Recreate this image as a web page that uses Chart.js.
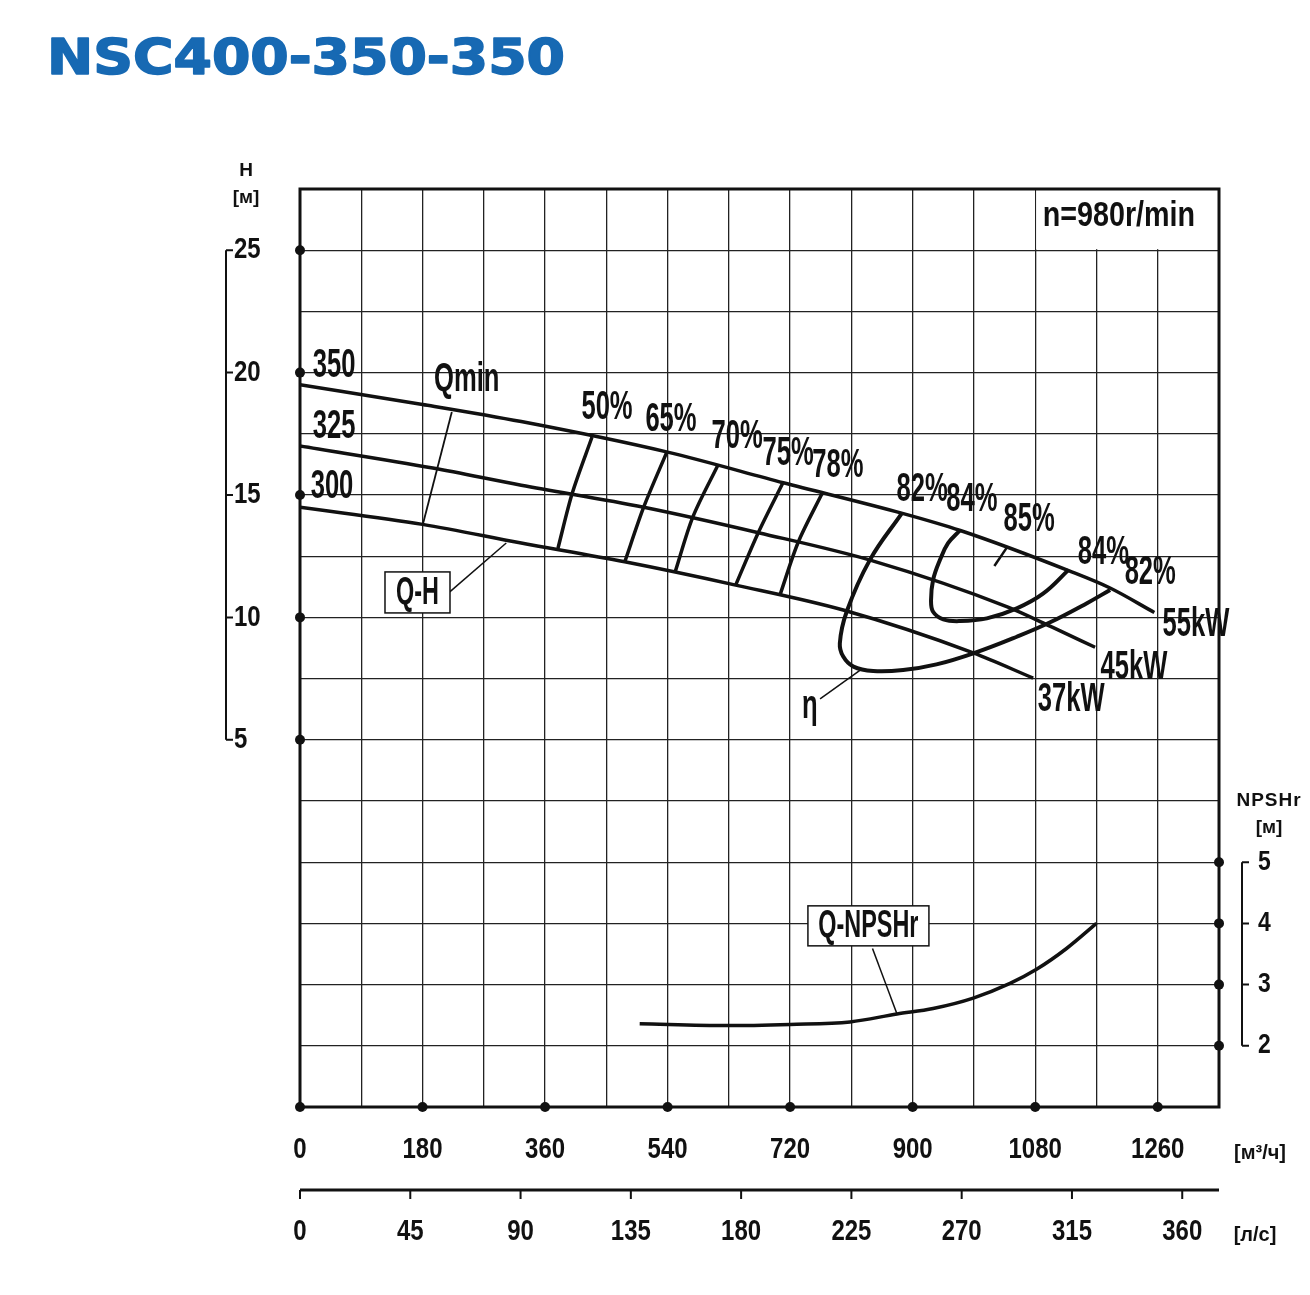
<!DOCTYPE html>
<html>
<head>
<meta charset="utf-8">
<script src="https://cdn.jsdelivr.net/npm/chart.js@4.4.1/dist/chart.umd.min.js"></script>
<style>
  html, body { margin: 0; padding: 0; background: #fff; }
  #wrap { width: 1310px; height: 1295px; position: relative; }
</style>
</head>
<body>
<div id="wrap"><canvas id="pumpChart"></canvas></div>
<script>
// ---- data (Q in m3/h, H in m, NPSHr in m) ----
const qTicksM3h = [0, 180, 360, 540, 720, 900, 1080, 1260];
const qTicksLs = [0, 45, 90, 135, 180, 225, 270, 315, 360];
const hTicks = [5, 10, 15, 20, 25];
const npshTicks = [2, 3, 4, 5];

// Q-H curves for impeller 350 / 325 / 300
const q350 = [0, 180, 325, 540, 710, 885, 970, 1130, 1190, 1255];
const h350 = [19.5, 18.7, 18.0, 16.75, 15.5, 14.25, 13.55, 11.9, 11.2, 10.2];
const q325 = [0, 195, 325, 505, 675, 840, 1040, 1105, 1168];
const h325 = [17.0, 16.1, 15.4, 14.5, 13.45, 12.32, 10.42, 9.6, 8.78];
const q300 = [0, 180, 323, 477, 640, 798, 989, 1077];
const h300 = [14.5, 13.8, 13.05, 12.27, 11.32, 10.3, 8.55, 7.52];

// efficiency iso-lines (from 350 curve down to 300 curve)
const q50 = [429, 400, 379];  const h50 = [17.37, 15.08, 12.83];
const q65 = [539, 505, 477];  const h65 = [16.76, 14.51, 12.26];
const q70 = [614, 577, 551];  const h70 = [16.23, 14.1, 11.85];
const q75 = [710, 673, 640];  const h75 = [15.53, 13.45, 11.32];
const q78 = [768, 732, 705];  const h78 = [15.12, 13.08, 10.91];
const q82 = [884, 837, 803, 793, 798, 813, 842, 886, 935, 992, 1053, 1102, 1156, 1190];
const h82 = [14.25, 12.34, 10.23, 8.94, 8.4, 7.99, 7.81, 7.85, 8.08, 8.56, 9.21, 9.8, 10.58, 11.12];
const q84 = [970, 952, 940, 930, 927, 930, 945, 970, 1009, 1053, 1092, 1129];
const h84 = [13.57, 13.03, 12.34, 11.53, 10.71, 10.23, 9.92, 9.85, 9.96, 10.37, 10.98, 11.94];
const q85 = [1039, 1020];     const h85 = [12.88, 12.1];

// Qmin line
const qQmin = [223, 181];     const hQmin = [18.39, 13.86];

// NPSHr curve
const qNpsh = [499, 627, 720, 808, 877, 930, 989, 1043, 1082, 1126, 1170];
const npsh = [2.36, 2.33, 2.35, 2.39, 2.52, 2.61, 2.78, 3.02, 3.25, 3.59, 4.0];

// leader lines
const qLeadQH = [220, 303];   const hLeadQH = [11.04, 13.04];
const qLeadEta = [764, 823];  const hLeadEta = [6.67, 7.85];
const qLeadNpsh = [841, 877]; const nLeadNpsh = [3.59, 2.52];

const pts = (xs, ys) => xs.map((x, i) => ({ x: x, y: ys[i] }));

const SANS = "'Liberation Sans', Arial, sans-serif";
const INK = '#111';

function txt(ctx, s, x, y, size, o) {
  o = o || {};
  ctx.save();
  ctx.font = (o.bold ? 'bold ' : '') + size + 'px ' + (o.family || SANS);
  ctx.textAlign = o.align || 'center';
  ctx.textBaseline = 'middle';
  ctx.fillStyle = o.color || INK;
  ctx.translate(x, y);
  ctx.scale(o.sx || 1, o.sy || 1);
  if (o.spacing) ctx.letterSpacing = o.spacing;
  ctx.fillText(s, 0, 0);
  ctx.restore();
}

// labels inside the plot, placed in data units
const curveLabels = [
  { t: '350', q: 50, h: 20.27 }, { t: '325', q: 50, h: 17.78 }, { t: '300', q: 47, h: 15.33 },
  { t: 'Qmin', q: 245, h: 19.7 },
  { t: '50%', q: 451, h: 18.55 }, { t: '65%', q: 545, h: 18.06 }, { t: '70%', q: 642, h: 17.37 },
  { t: '75%', q: 717, h: 16.67 }, { t: '78%', q: 790, h: 16.18 }, { t: '82%', q: 914, h: 15.2 },
  { t: '84%', q: 987, h: 14.8 }, { t: '85%', q: 1071, h: 13.98 }, { t: '84%', q: 1180, h: 12.63 },
  { t: '82%', q: 1249, h: 11.81 },
  { t: '55kW', q: 1316, h: 9.69 }, { t: '45kW', q: 1225, h: 7.93 }, { t: '37kW', q: 1133, h: 6.63 },
  { t: 'η', q: 749, h: 6.34 }
];

const decor = {
  id: 'decor',
  beforeDatasetsDraw(chart) {
    const { ctx, chartArea: a, scales: { x, y } } = chart;
    // blank cell behind the speed note
    ctx.save();
    ctx.fillStyle = '#fff';
    ctx.fillRect(x.getPixelForValue(1080) + 1, a.top, a.right - x.getPixelForValue(1080) - 1, y.getPixelForValue(25) - a.top - 1);
    ctx.restore();
  },
  afterDatasetsDraw(chart) {
    const { ctx, chartArea: a, scales: { x, y, yN, xLs } } = chart;
    ctx.save();
    ctx.strokeStyle = INK;
    ctx.lineWidth = 3;
    ctx.strokeRect(a.left, a.top, a.right - a.left, a.bottom - a.top);

    ctx.fillStyle = INK;
    const dot = (px, py) => { ctx.beginPath(); ctx.arc(px, py, 5, 0, Math.PI * 2); ctx.fill(); };
    hTicks.forEach(v => dot(a.left, y.getPixelForValue(v)));
    qTicksM3h.forEach(v => dot(x.getPixelForValue(v), a.bottom));
    npshTicks.forEach(v => dot(a.right, yN.getPixelForValue(v)));

    // left H scale bracket
    const bx = a.left - 74;
    ctx.lineWidth = 2;
    ctx.beginPath();
    ctx.moveTo(bx, y.getPixelForValue(25));
    ctx.lineTo(bx, y.getPixelForValue(5));
    hTicks.forEach(v => { const py = y.getPixelForValue(v); ctx.moveTo(bx, py); ctx.lineTo(bx + 7, py); });
    ctx.stroke();
    hTicks.forEach(v => txt(ctx, String(v), bx + 8, y.getPixelForValue(v), 30, { align: 'left', bold: true, sx: 0.8 }));
    txt(ctx, 'H', bx + 20, a.top - 18, 19, { bold: true });
    txt(ctx, '[м]', bx + 20, a.top + 9, 19, { bold: true });

    // right NPSHr scale bracket
    const rx = a.right + 23;
    ctx.beginPath();
    ctx.moveTo(rx, yN.getPixelForValue(5));
    ctx.lineTo(rx, yN.getPixelForValue(2));
    npshTicks.forEach(v => { const py = yN.getPixelForValue(v); ctx.moveTo(rx, py); ctx.lineTo(rx + 7, py); });
    ctx.stroke();
    npshTicks.forEach(v => txt(ctx, String(v), rx + 16, yN.getPixelForValue(v), 27, { align: 'left', bold: true, sx: 0.85 }));
    txt(ctx, 'NPSHr', a.right + 50, yN.getPixelForValue(5) - 61, 19, { bold: true, spacing: '1px' });
    txt(ctx, '[м]', a.right + 50, yN.getPixelForValue(5) - 34, 19, { bold: true });

    // m3/h tick labels
    qTicksM3h.forEach(v => txt(ctx, String(v), x.getPixelForValue(v), a.bottom + 43, 30, { bold: true, sx: 0.8 }));
    txt(ctx, '[м³/ч]', a.right + 41, a.bottom + 46, 20, { bold: true });

    // l/s axis
    const ly = a.bottom + 83;
    ctx.lineWidth = 3;
    ctx.beginPath();
    ctx.moveTo(a.left, ly); ctx.lineTo(a.right, ly);
    ctx.stroke();
    ctx.lineWidth = 2;
    ctx.beginPath();
    qTicksLs.forEach(v => { const px = xLs.getPixelForValue(v); ctx.moveTo(px, ly); ctx.lineTo(px, ly + 9); });
    ctx.stroke();
    qTicksLs.forEach(v => txt(ctx, String(v), xLs.getPixelForValue(v), ly + 42, 30, { bold: true, sx: 0.8 }));
    txt(ctx, '[л/с]', a.right + 36, ly + 45, 20, { bold: true });
    ctx.restore();
  },
  afterDraw(chart) {
    const { ctx, scales: { x, y, yN } } = chart;
    curveLabels.forEach(l => txt(ctx, l.t, x.getPixelForValue(l.q), y.getPixelForValue(l.h), 32, { bold: true, sx: 0.8, sy: 1.28 }));
    txt(ctx, 'n=980r/min', x.getPixelForValue(1203), y.getPixelForValue(26.36), 33, { bold: true, sx: 0.87, sy: 1.05 });

    const box = (s, cx, cy, w, h) => {
      ctx.save();
      ctx.fillStyle = '#fff';
      ctx.strokeStyle = INK;
      ctx.lineWidth = 1.5;
      ctx.fillRect(cx - w / 2, cy - h / 2, w, h);
      ctx.strokeRect(cx - w / 2, cy - h / 2, w, h);
      ctx.restore();
      txt(ctx, s, cx, cy + 1, 30, { bold: true, sx: 0.78, sy: 1.28 });
    };
    box('Q-H', x.getPixelForValue(172.6), y.getPixelForValue(11.02), 65, 41);
    box('Q-NPSHr', x.getPixelForValue(835), yN.getPixelForValue(3.96), 121, 40);

    // title
    ctx.save();
    ctx.font = "bold 49px 'DejaVu Sans', sans-serif";
    ctx.fillStyle = '#1769b3';
    ctx.strokeStyle = '#1769b3';
    ctx.lineWidth = 1.6;
    ctx.lineJoin = 'round';
    ctx.textBaseline = 'alphabetic';
    const w = ctx.measureText('NSC400-350-350').width;
    ctx.translate(47, 74);
    ctx.scale(518 / w, 1);
    ctx.fillText('NSC400-350-350', 0, 0);
    ctx.strokeText('NSC400-350-350', 0, 0);
    ctx.restore();
  }
};

const thick = { borderColor: INK, pointRadius: 0, showLine: true, fill: false, borderWidth: 3.5 };

new Chart(document.getElementById('pumpChart').getContext('2d'), {
  type: 'scatter',
  data: {
    datasets: [
      { ...thick, label: 'Q-H 350', data: pts(q350, h350), cubicInterpolationMode: 'monotone' },
      { ...thick, label: 'Q-H 325', data: pts(q325, h325), cubicInterpolationMode: 'monotone' },
      { ...thick, label: 'Q-H 300', data: pts(q300, h300), cubicInterpolationMode: 'monotone' },
      { ...thick, label: '50%', data: pts(q50, h50), tension: 0.3 },
      { ...thick, label: '65%', data: pts(q65, h65), tension: 0.3 },
      { ...thick, label: '70%', data: pts(q70, h70), tension: 0.3 },
      { ...thick, label: '75%', data: pts(q75, h75), tension: 0.3 },
      { ...thick, label: '78%', data: pts(q78, h78), tension: 0.3 },
      { ...thick, label: '82%', data: pts(q82, h82), tension: 0.4, borderWidth: 4 },
      { ...thick, label: '84%', data: pts(q84, h84), tension: 0.4, borderWidth: 4 },
      { ...thick, label: '85%', data: pts(q85, h85), borderWidth: 2.5 },
      { ...thick, label: 'Qmin', data: pts(qQmin, hQmin), borderWidth: 1.8 },
      { ...thick, label: 'lead Q-H', data: pts(qLeadQH, hLeadQH), borderWidth: 1.5 },
      { ...thick, label: 'lead eta', data: pts(qLeadEta, hLeadEta), borderWidth: 1.5 },
      { ...thick, label: 'Q-NPSHr', data: pts(qNpsh, npsh), yAxisID: 'yN', cubicInterpolationMode: 'monotone' },
      { ...thick, label: 'lead NPSHr', data: pts(qLeadNpsh, nLeadNpsh), yAxisID: 'yN', borderWidth: 1.5 }
    ]
  },
  options: {
    responsive: true,
    maintainAspectRatio: false,
    animation: false,
    events: [],
    layout: { padding: { left: 300, top: 189, right: 91, bottom: 188 } },
    plugins: { legend: { display: false }, tooltip: { enabled: false } },
    scales: {
      x: {
        type: 'linear', min: 0, max: 1350,
        ticks: { display: false, stepSize: 90 },
        grid: { color: '#222', lineWidth: 1.3, drawTicks: false },
        border: { display: false },
        afterFit: s => { s.height = 0; }
      },
      xLs: { type: 'linear', position: 'bottom', min: 0, max: 375, display: false },
      y: {
        type: 'linear', min: -10, max: 27.5,
        ticks: { display: false, stepSize: 2.5 },
        grid: { color: '#222', lineWidth: 1.3, drawTicks: false },
        border: { display: false },
        afterFit: s => { s.width = 0; }
      },
      yN: { type: 'linear', position: 'right', min: 1, max: 16, display: false }
    }
  },
  plugins: [decor]
});
</script>
</body>
</html>
